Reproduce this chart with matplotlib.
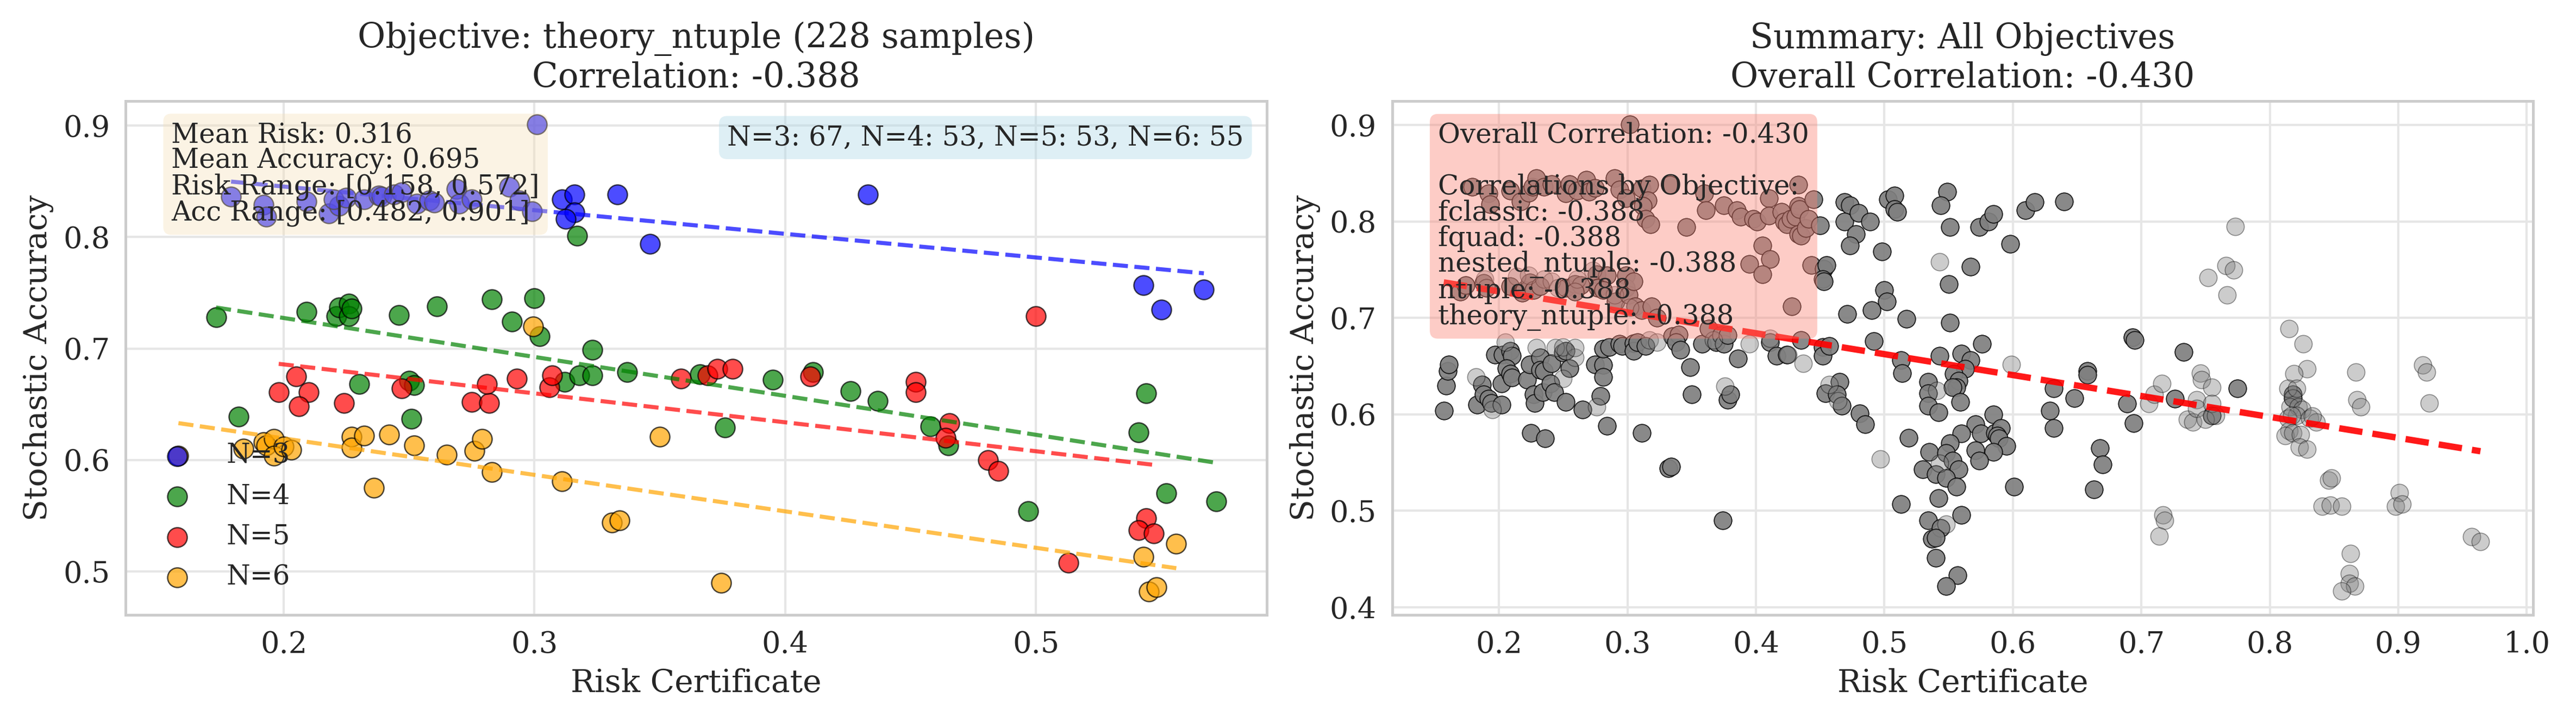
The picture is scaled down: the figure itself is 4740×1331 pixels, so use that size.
"""Risk certificate vs stochastic accuracy: per-objective view and summary."""

import numpy as np
import matplotlib
matplotlib.use("Agg")
import matplotlib.pyplot as plt
import seaborn as sns

# ---- left panel: theory_ntuple, grouped by N -------------------------------
GROUPS = ["N=3", "N=4", "N=5", "N=6"]
GROUP_COLORS = ["blue", "green", "red", "orange"]

n3_points = [
    (0.179, 0.836), (0.192, 0.829), (0.193, 0.818), (0.209, 0.832), (0.218, 0.821),
    (0.222, 0.828), (0.220, 0.834), (0.225, 0.835), (0.232, 0.834), (0.238, 0.837),
    (0.239, 0.836), (0.244, 0.838), (0.247, 0.840), (0.253, 0.830), (0.258, 0.833),
    (0.260, 0.831), (0.269, 0.843), (0.270, 0.830), (0.275, 0.834), (0.290, 0.845),
    (0.294, 0.833), (0.299, 0.823), (0.301, 0.901), (0.311, 0.834), (0.316, 0.838),
    (0.316, 0.822), (0.3125, 0.816), (0.333, 0.838), (0.346, 0.794), (0.433, 0.838),
    (0.543, 0.757), (0.550, 0.735), (0.567, 0.753),
]
n4_points = [
    (0.173, 0.728), (0.182, 0.639), (0.209, 0.733), (0.221, 0.729), (0.222, 0.737),
    (0.226, 0.740), (0.226, 0.729), (0.227, 0.736), (0.230, 0.668), (0.246, 0.730),
    (0.250, 0.671), (0.252, 0.667), (0.251, 0.637), (0.261, 0.738), (0.283, 0.744),
    (0.291, 0.724), (0.300, 0.745), (0.302, 0.711), (0.312, 0.670), (0.318, 0.676),
    (0.323, 0.699), (0.323, 0.676), (0.317, 0.801), (0.337, 0.679), (0.366, 0.677),
    (0.376, 0.629), (0.395, 0.672), (0.411, 0.679), (0.426, 0.662), (0.437, 0.653),
    (0.458, 0.630), (0.465, 0.613), (0.544, 0.660), (0.541, 0.625), (0.552, 0.570),
    (0.572, 0.563), (0.497, 0.554),
]
n5_points = [
    (0.205, 0.675), (0.198, 0.661), (0.210, 0.661), (0.206, 0.648), (0.224, 0.651),
    (0.247, 0.664), (0.275, 0.652), (0.282, 0.651), (0.281, 0.668), (0.293, 0.673),
    (0.306, 0.665), (0.307, 0.676), (0.3585, 0.673), (0.369, 0.676), (0.373, 0.682),
    (0.379, 0.682), (0.410, 0.675), (0.452, 0.670), (0.452, 0.661), (0.4655, 0.633),
    (0.464, 0.620), (0.481, 0.600), (0.485, 0.590), (0.500, 0.729), (0.513, 0.508),
    (0.544, 0.548), (0.541, 0.537), (0.547, 0.534),
]
n6_points = [
    (0.158, 0.604), (0.184, 0.610), (0.192, 0.616), (0.193, 0.613), (0.196, 0.619),
    (0.196, 0.604), (0.200, 0.612), (0.203, 0.609), (0.227, 0.621), (0.227, 0.611),
    (0.232, 0.622), (0.242, 0.623), (0.252, 0.613), (0.236, 0.575), (0.265, 0.605),
    (0.276, 0.608), (0.279, 0.619), (0.283, 0.589), (0.2995, 0.720), (0.311, 0.581),
    (0.331, 0.544), (0.334, 0.546), (0.350, 0.621), (0.3745, 0.490), (0.543, 0.513),
    (0.556, 0.525), (0.545, 0.482), (0.548, 0.486),
]
GROUP_POINTS = [n3_points, n4_points, n5_points, n6_points]

LEFT_TITLE = "Objective: theory_ntuple (228 samples)\nCorrelation: -0.388"
LEFT_STATS = ("Mean Risk: 0.316\nMean Accuracy: 0.695\n"
              "Risk Range: [0.158, 0.572]\nAcc Range: [0.482, 0.901]")
LEFT_COUNTS = "N=3: 67, N=4: 53, N=5: 53, N=6: 55"

# ---- right panel: all objectives ----------------------------------------
# dark points: the same sample shared by all five objectives (drawn 5x)
gray_dark = [
    (0.179, 0.836), (0.192, 0.829), (0.193, 0.818), (0.209, 0.832), (0.217, 0.821),
    (0.223, 0.830), (0.226, 0.836), (0.229, 0.845), (0.235, 0.836), (0.241, 0.839),
    (0.252, 0.829), (0.255, 0.839), (0.261, 0.832), (0.268, 0.843), (0.270, 0.831),
    (0.275, 0.835), (0.290, 0.845), (0.294, 0.833), (0.299, 0.824), (0.302, 0.901),
    (0.311, 0.834), (0.317, 0.838), (0.316, 0.822), (0.312, 0.816), (0.314, 0.803),
    (0.318, 0.797), (0.333, 0.838), (0.346, 0.794),
    (0.170, 0.727), (0.174, 0.734), (0.188, 0.736), (0.190, 0.731), (0.209, 0.733),
    (0.218, 0.726), (0.220, 0.729), (0.224, 0.737), (0.227, 0.729), (0.232, 0.733),
    (0.252, 0.731), (0.259, 0.735), (0.264, 0.734), (0.259, 0.727), (0.276, 0.745),
    (0.284, 0.744), (0.277, 0.731), (0.281, 0.729), (0.291, 0.717), (0.299, 0.744),
    (0.299, 0.731), (0.301, 0.724), (0.305, 0.738), (0.306, 0.712), (0.311, 0.708),
    (0.319, 0.712), (0.323, 0.700),
    (0.157, 0.604), (0.159, 0.630), (0.160, 0.645), (0.161, 0.652), (0.183, 0.610),
    (0.187, 0.631), (0.188, 0.621), (0.192, 0.616), (0.194, 0.612), (0.197, 0.662),
    (0.202, 0.610), (0.202, 0.632), (0.203, 0.662), (0.209, 0.666), (0.210, 0.661),
    (0.206, 0.648), (0.209, 0.642), (0.210, 0.638), (0.222, 0.636), (0.224, 0.652),
    (0.227, 0.621), (0.228, 0.612), (0.225, 0.581), (0.232, 0.659), (0.234, 0.623),
    (0.232, 0.646), (0.235, 0.645), (0.236, 0.575), (0.241, 0.653), (0.240, 0.632),
    (0.243, 0.623), (0.250, 0.664), (0.252, 0.666), (0.252, 0.613), (0.255, 0.648),
    (0.265, 0.605), (0.275, 0.652), (0.281, 0.651), (0.281, 0.639), (0.279, 0.619),
    (0.284, 0.588), (0.281, 0.668), (0.286, 0.670), (0.294, 0.673), (0.296, 0.671),
    (0.305, 0.674), (0.305, 0.666), (0.308, 0.675), (0.314, 0.671), (0.311, 0.581),
    (0.332, 0.544), (0.334, 0.546), (0.335, 0.681), (0.340, 0.683), (0.338, 0.675),
    (0.341, 0.667), (0.349, 0.649), (0.350, 0.621), (0.358, 0.673), (0.363, 0.689),
    (0.369, 0.675), (0.373, 0.682), (0.375, 0.673), (0.378, 0.682), (0.378, 0.615),
    (0.380, 0.621), (0.374, 0.490), (0.386, 0.658), (0.411, 0.675), (0.416, 0.661),
    (0.424, 0.662), (0.435, 0.677), (0.452, 0.670), (0.452, 0.661), (0.457, 0.671),
    (0.454, 0.622), (0.465, 0.634), (0.463, 0.621), (0.467, 0.609), (0.481, 0.601),
    (0.485, 0.590), (0.492, 0.676), (0.513, 0.507), (0.513, 0.656), (0.514, 0.643),
    (0.519, 0.576), (0.517, 0.699),
    (0.360, 0.829), (0.361, 0.812), (0.375, 0.817), (0.385, 0.812), (0.388, 0.805),
    (0.398, 0.803), (0.401, 0.800), (0.410, 0.824), (0.410, 0.806), (0.405, 0.775),
    (0.395, 0.756), (0.411, 0.761), (0.405, 0.745), (0.420, 0.810), (0.422, 0.800),
    (0.424, 0.797), (0.427, 0.803), (0.431, 0.805), (0.433, 0.816), (0.434, 0.813),
    (0.433, 0.838), (0.433, 0.787), (0.435, 0.785), (0.439, 0.793), (0.441, 0.803),
    (0.445, 0.823), (0.428, 0.712), (0.443, 0.755), (0.450, 0.796), (0.453, 0.751),
    (0.455, 0.755), (0.452, 0.740), (0.453, 0.738), (0.469, 0.820), (0.473, 0.817),
    (0.469, 0.800), (0.480, 0.809), (0.478, 0.787), (0.473, 0.775), (0.471, 0.704),
    (0.489, 0.800), (0.498, 0.769), (0.500, 0.729), (0.502, 0.717), (0.490, 0.708),
    (0.503, 0.823), (0.508, 0.827), (0.508, 0.813), (0.510, 0.810),
    (0.535, 0.561), (0.530, 0.543), (0.534, 0.490), (0.537, 0.471), (0.534, 0.634),
    (0.534, 0.622), (0.534, 0.609), (0.542, 0.602), (0.540, 0.538), (0.542, 0.513),
    (0.544, 0.482),
    (0.549, 0.831), (0.544, 0.817), (0.551, 0.794), (0.574, 0.794), (0.581, 0.800),
    (0.585, 0.808), (0.610, 0.812), (0.617, 0.820), (0.640, 0.821), (0.598, 0.777),
    (0.567, 0.753), (0.550, 0.735), (0.551, 0.695), (0.576, 0.673), (0.543, 0.661),
    (0.560, 0.663), (0.567, 0.656), (0.563, 0.647), (0.554, 0.642), (0.558, 0.635),
    (0.556, 0.628), (0.553, 0.628), (0.559, 0.613), (0.585, 0.600), (0.571, 0.590),
    (0.575, 0.580), (0.560, 0.580), (0.586, 0.581), (0.591, 0.586), (0.588, 0.578),
    (0.589, 0.575), (0.595, 0.567), (0.551, 0.570), (0.571, 0.563), (0.585, 0.561),
    (0.548, 0.560), (0.574, 0.552), (0.553, 0.552), (0.558, 0.543), (0.548, 0.534),
    (0.556, 0.525), (0.601, 0.525), (0.560, 0.496), (0.540, 0.472), (0.540, 0.451),
    (0.557, 0.433), (0.548, 0.422),
    (0.632, 0.627), (0.629, 0.604), (0.632, 0.586), (0.648, 0.617), (0.658, 0.645),
    (0.658, 0.641), (0.668, 0.565), (0.670, 0.548), (0.663, 0.522), (0.693, 0.680),
    (0.695, 0.677), (0.689, 0.611), (0.694, 0.591), (0.726, 0.616), (0.733, 0.665),
    (0.755, 0.599), (0.775, 0.627), (0.818, 0.621), (0.818, 0.617),
]
# light points: a single objective's sample
gray_light = [
    (0.189, 0.740), (0.214, 0.743), (0.223, 0.744), (0.235, 0.740), (0.241, 0.738),
    (0.246, 0.731), (0.261, 0.740), (0.273, 0.749), (0.290, 0.724), (0.302, 0.711),
    (0.182, 0.639), (0.195, 0.605), (0.205, 0.675), (0.229, 0.669), (0.244, 0.669),
    (0.250, 0.670), (0.250, 0.637), (0.259, 0.659), (0.259, 0.669), (0.276, 0.608),
    (0.317, 0.677), (0.323, 0.675), (0.367, 0.677), (0.376, 0.629), (0.395, 0.673),
    (0.411, 0.679), (0.425, 0.662), (0.437, 0.653), (0.457, 0.631), (0.464, 0.614),
    (0.497, 0.554), (0.543, 0.758), (0.541, 0.625), (0.543, 0.549), (0.548, 0.486),
    (0.599, 0.652), (0.706, 0.611), (0.710, 0.621), (0.716, 0.632), (0.717, 0.496),
    (0.718, 0.490), (0.714, 0.474), (0.736, 0.595), (0.740, 0.592), (0.743, 0.615),
    (0.743, 0.606), (0.746, 0.643), (0.747, 0.636), (0.750, 0.595), (0.755, 0.628),
    (0.755, 0.611), (0.758, 0.599), (0.752, 0.742), (0.766, 0.754), (0.772, 0.750),
    (0.767, 0.724), (0.773, 0.795), (0.815, 0.689), (0.826, 0.673), (0.829, 0.647),
    (0.819, 0.642), (0.814, 0.627), (0.821, 0.627), (0.816, 0.608), (0.822, 0.608),
    (0.825, 0.605), (0.821, 0.599), (0.814, 0.596), (0.817, 0.599), (0.831, 0.596),
    (0.836, 0.592), (0.833, 0.598), (0.815, 0.583), (0.812, 0.578), (0.818, 0.581),
    (0.824, 0.579), (0.823, 0.566), (0.829, 0.564), (0.867, 0.644), (0.868, 0.615),
    (0.871, 0.608), (0.846, 0.532), (0.848, 0.534), (0.841, 0.505), (0.847, 0.506),
    (0.856, 0.505), (0.863, 0.456), (0.862, 0.435), (0.862, 0.425), (0.866, 0.422),
    (0.856, 0.417), (0.901, 0.519), (0.898, 0.505), (0.903, 0.507), (0.919, 0.651),
    (0.922, 0.644), (0.924, 0.612), (0.957, 0.473), (0.964, 0.468),
]
N_OBJECTIVES = 5

RIGHT_TITLE = "Summary: All Objectives\nOverall Correlation: -0.430"
RIGHT_STATS = ("Overall Correlation: -0.430\n\nCorrelations by Objective:\n"
               "fclassic: -0.388\nfquad: -0.388\nnested_ntuple: -0.388\n"
               "ntuple: -0.388\ntheory_ntuple: -0.388")


def _trend(ax, xs, ys, color, **kwargs):
    slope, intercept = np.polyfit(xs, ys, 1)
    line_x = np.array([xs.min(), xs.max()])
    ax.plot(line_x, slope * line_x + intercept, "--", color=color, **kwargs)


def _style_axes(ax, title):
    ax.set_title(title, fontsize=15)
    ax.set_xlabel("Risk Certificate", fontsize=14)
    ax.set_ylabel("Stochastic Accuracy", fontsize=14)
    ax.tick_params(labelsize=13)
    ax.grid(True, color="#e6e6e6", linewidth=1.0)
    for spine in ax.spines.values():
        spine.set_edgecolor("#cccccc")
        spine.set_linewidth(1.2)


def main() -> None:
    sns.set_style("whitegrid")
    plt.rcParams["font.family"] = ["DejaVu Serif"]
    fig, (ax_left, ax_right) = plt.subplots(1, 2, figsize=(15.8, 4.437))

    for label, color, points in zip(GROUPS, GROUP_COLORS, GROUP_POINTS):
        arr = np.array(points)
        ax_left.scatter(arr[:, 0], arr[:, 1], s=75, color=color, alpha=0.7,
                        edgecolor="black", linewidth=0.6, label=label)
        _trend(ax_left, arr[:, 0], arr[:, 1], color, alpha=0.7, linewidth=1.8)
    ax_left.set_xlim(0.137, 0.592)
    ax_left.set_ylim(0.461, 0.922)
    _style_axes(ax_left, LEFT_TITLE)
    ax_left.legend(loc="lower left", fontsize=12, frameon=False)
    ax_left.text(0.04, 0.96, LEFT_STATS, transform=ax_left.transAxes, va="top",
                 fontsize=12, linespacing=0.95,
                 bbox=dict(boxstyle="round,pad=0.3", facecolor="wheat",
                           edgecolor="none", alpha=0.35))
    ax_left.text(0.98, 0.955, LEFT_COUNTS, transform=ax_left.transAxes, va="top",
                 ha="right", fontsize=12,
                 bbox=dict(boxstyle="round,pad=0.3", facecolor="lightblue",
                           edgecolor="none", alpha=0.4))

    dark = np.array(gray_dark)
    light = np.array(gray_light)
    stacked = np.repeat(dark, N_OBJECTIVES, axis=0)
    ax_right.scatter(np.r_[stacked[:, 0], light[:, 0]], np.r_[stacked[:, 1], light[:, 1]],
                     s=60, color="gray", alpha=0.4, edgecolor="black", linewidth=0.4)
    unique_x = np.r_[dark[:, 0], light[:, 0]]
    unique_y = np.r_[dark[:, 1], light[:, 1]]
    _trend(ax_right, unique_x, unique_y, "red", alpha=0.9, linewidth=2.8)
    ax_right.set_xlim(0.117, 1.005)
    ax_right.set_ylim(0.392, 0.925)
    _style_axes(ax_right, RIGHT_TITLE)
    ax_right.text(0.04, 0.96, RIGHT_STATS, transform=ax_right.transAxes, va="top",
                  fontsize=12, linespacing=0.95,
                  bbox=dict(boxstyle="round,pad=0.3", facecolor="salmon",
                            edgecolor="none", alpha=0.4))

    fig.tight_layout()
    fig.savefig("out.png", dpi=300)
    plt.close(fig)


if __name__ == "__main__":
    main()
